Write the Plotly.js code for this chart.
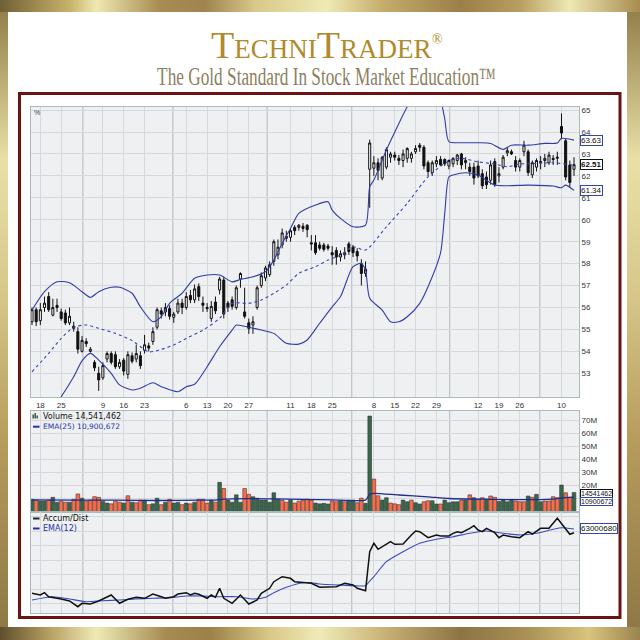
<!DOCTYPE html>
<html><head><meta charset="utf-8">
<script src="https://cdn.plot.ly/plotly-3.0.1.min.js"></script>
<style>
html,body{margin:0;padding:0;background:#fff;}
#wrap{position:relative;width:640px;height:640px;overflow:hidden;
background:
 linear-gradient(90deg,#6f5f35 0%,#c8b36b 11%,#efe8b2 15%,#a98c52 25%,#9f8450 32%,#d9c98a 40%,#efeab6 51%,#c4ac6a 60%,#9a7f48 72%,#b79d5e 81%,#efe8b5 89%,#a88c50 100%) top left/640px 12px no-repeat,
 linear-gradient(90deg,#5e4f2c 0%,#b9a264 8%,#eeeab5 15%,#a58a52 26%,#9c8248 33%,#d8c888 42%,#efebb8 50%,#c8b275 60%,#8c7445 72%,#a78f55 82%,#d8c47c 92%,#9a8450 100%) bottom left/640px 13px no-repeat,
 linear-gradient(180deg,#8d7843 0%,#e9e0a8 25%,#d8c98a 45%,#b59a5a 70%,#8c7645 100%);}
#inner{position:absolute;left:8px;top:12px;width:619px;height:615px;background:#fff;}
#chart{position:absolute;left:0;top:0;width:640px;height:640px;}
</style></head><body>
<div id="wrap"><div id="inner"></div><div id="chart"></div></div>
<script>
// ---- tick labels (trading-day index of each labelled Monday) ----
const tickDays   = [2,7,17,22,27,37,42,47,52,62,67,72,82,87,92,97,107,112,117,127];
const tickLabels = ['18','25','9','16','23','6','13','20','27','11','18','25','8','15','22','29','12','19','26','10'];
const monthLines = [12.2,33.8,56.4,76.7,100.2,121.8];
const priceTicks = [53,54,55,56,57,58,59,60,61,62,63,64,65];
const volTicks   = [20,30,40,50,60,70];
const volTickText= ['20M','30M','40M','50M','60M','70M'];
const volExtraGrid = [10];
const adGrid     = [-12,2.5,17,31.5,46,60.5,75];

// ---- price candles ----
const open = [55.35,55.9,55.4,56.0,56.5,55.65,56.1,55.8,55.75,55.3, 55.15,54.9,54.0,54.45,54.0,53.5,53.0,52.8,53.65,53.9, 53.85,53.3,53.6,52.95,53.8,53.65,53.8,54.05,54.25,54.45, 55.1,55.85,55.8,55.95,55.55,55.8,56.2,56.0,56.55,56.35, 56.95,56.2,56.0,55.5,56.25,56.8,57.25,56.2,56.35,56.0, 57.3,55.8,55.3,55.2,56.0,57.0,57.35,57.5,58.1,58.4, 58.85,59.15,59.2,59.65,59.65,59.7,59.75,58.95,58.95,58.85, 58.85,58.8,58.5,58.6,58.3,58.4,58.9,58.75,58.55,58.0, 57.55,62.3,62.35,62.6,61.9,62.4,62.85,62.95,62.8,62.7, 62.8,62.8,63.1,63.4,63.3,62.6,62.15,62.55,62.75,62.75, 62.45,62.55,62.7,63.0,62.6,62.4,62.4,62.45,62.1,61.95, 61.8,62.65,62.0,62.4,63.05,63.1,62.7,62.4,63.1,63.1, 62.05,62.4,62.6,62.7,62.6,62.8,62.8,64.25,63.6,62.5, 62.3];
const high = [56.0,56.0,56.2,56.5,56.7,56.4,56.4,55.95,55.9,56.0, 55.35,55.1,54.7,54.6,54.2,53.6,53.3,53.5,54.0,54.0, 54.0,53.65,53.7,54.0,53.95,54.3,54.0,54.75,54.4,55.1, 56.0,56.0,56.2,56.1,55.8,56.4,56.4,56.7,56.8,57.05, 57.1,56.5,56.2,56.3,56.5,57.4,57.4,56.3,56.5,57.0, 57.6,56.9,55.5,55.6,57.0,57.6,57.9,58.1,59.1,59.1, 59.6,59.5,59.6,59.75,59.8,59.85,59.8,59.3,59.3,59.0, 58.95,58.9,58.8,58.75,58.6,58.75,59.0,58.85,58.7,58.2, 58.1,63.65,62.9,62.8,62.9,63.3,63.1,63.1,62.95,63.2, 63.3,63.1,63.4,63.5,63.4,62.7,62.7,62.9,62.9,62.8, 62.75,62.85,63.0,63.05,62.85,62.6,62.6,62.7,62.3,62.2, 62.7,62.8,62.4,62.95,63.3,63.2,62.9,62.8,63.6,63.2, 62.7,62.8,62.9,63.0,63.1,62.95,63.1,64.85,63.7,62.7, 62.85];
const low = [55.2,55.15,55.2,55.8,55.8,55.6,55.8,55.4,55.2,55.2, 54.9,53.9,53.95,54.2,53.95,53.1,52.2,52.7,53.5,53.4, 53.2,53.2,52.9,52.75,53.45,53.5,53.2,53.9,54.0,54.3, 55.0,55.5,55.6,55.45,55.3,55.7,55.7,55.9,56.2,56.2, 56.3,55.8,55.8,55.35,55.7,56.6,55.5,55.8,55.9,55.9, 56.9,55.5,54.8,54.8,55.9,56.9,57.2,57.4,57.9,58.2, 58.7,59.0,59.0,59.3,59.5,59.45,59.2,58.6,58.4,58.6, 58.55,58.6,57.95,57.95,58.1,58.2,58.4,58.3,58.1,57.0, 57.4,60.55,62.0,61.8,61.8,62.3,62.6,62.7,62.5,62.4, 62.6,62.6,63.0,63.1,62.3,62.0,62.0,62.4,62.45,62.45, 62.3,62.4,62.5,62.3,62.3,62.0,61.6,61.9,61.4,61.4, 61.6,61.5,61.7,62.3,62.9,62.95,62.2,62.2,62.9,62.0, 61.9,62.2,62.3,62.4,62.5,62.5,62.5,63.7,61.8,61.5, 62.0];
const close = [55.9,55.35,55.9,56.2,55.9,56.0,56.0,55.5,55.3,55.6, 55.05,54.1,54.5,54.35,54.1,53.25,52.7,53.35,53.9,53.5, 53.3,53.5,53.1,53.85,53.55,53.9,53.35,54.3,54.15,54.9, 55.9,55.7,56.0,55.6,55.7,56.2,56.0,56.5,56.35,56.85, 56.5,56.1,55.95,56.05,55.85,57.3,55.7,56.0,56.05,56.9, 57.55,55.6,55.05,55.35,56.9,57.45,57.8,57.95,59.0,58.75, 59.4,59.25,59.5,59.5,59.75,59.6,59.55,58.9,58.5,58.7, 58.65,58.7,58.4,58.3,58.45,58.5,58.55,58.5,58.35,57.55, 57.75,63.5,62.6,62.25,62.85,63.2,63.0,62.85,62.7,63.0, 63.25,63.0,63.25,63.3,62.45,62.2,62.6,62.7,62.5,62.55, 62.7,62.8,62.95,62.5,62.7,62.2,61.9,62.0,61.55,61.6, 62.5,61.6,62.1,62.85,63.15,63.0,62.4,62.7,63.4,62.15, 62.6,62.7,62.65,62.8,62.95,62.75,62.85,63.95,61.95,61.7, 62.51];

// ---- Bollinger bands (sampled day index / value) ----
const upperX = [0,3,6,9,12,14,16,19,21,24,26,29,31,33,36,39,42,45,48,50,53,56,58,60,62,64,68,71,72,74,77,80,81,82,85,88,90,92,94,97,98,99,100,103,107,110,113,115,119,123,126,127,130];
const upperV = [55.88,56.72,57.17,57.13,56.72,56.46,56.72,56.92,56.92,56.65,56.03,55.35,55.58,56.19,56.65,57.33,57.48,57.48,57.17,57.28,57.4,57.63,58.16,58.92,59.6,60.29,60.67,60.82,60.44,60.06,59.68,59.76,61.5,61.81,63.18,64.39,65.15,65.8,66.2,66.0,65.5,64.6,63.56,63.51,63.51,63.48,63.21,63.4,63.4,63.48,63.5,63.71,63.63];
const midX = [0,4,7,10,13,16,20,24,28,31,34,37,41,45,48,52,55,58,61,64,68,71,74,77,80,85,90,95,100,103,107,111,114,117,121,125,130];
const midV = [53.07,53.91,54.59,55.1,55.2,55.05,54.82,54.49,53.98,54.09,54.29,54.59,54.97,55.51,56.19,56.19,56.34,56.65,57.02,57.56,57.86,58.16,58.39,58.77,58.62,59.68,60.75,61.96,62.69,62.8,62.64,62.54,62.42,62.54,62.57,62.6,62.49];
const lowerX = [0,3,5,7,10,12,14,16,19,21,24,26,29,31,35,37,39,42,45,48,49,52,55,58,61,64,66,69,72,74,77,79,80,81,84,86,88,90,93,96,98,99,100,101,104,107,111,119,125,127,128,130];
const lowerV = [50.3,50.9,51.4,51.93,52.84,53.57,53.91,53.6,53.0,52.47,52.24,52.32,52.57,52.39,52.16,52.39,52.5,53.3,54.21,54.97,55.2,55.1,54.97,54.82,54.37,54.33,54.52,55.28,56.03,56.5,57.86,58.01,57.7,56.42,55.88,55.35,55.35,55.58,56.19,57.4,58.5,60.3,61.96,62.04,62.14,62.04,61.58,61.58,61.54,61.46,61.58,61.34];

// ---- volume (millions) and up/down flag ----
const volume = [9.3,8.7,8.0,8.0,8.7,10.8,7.1,7.9,7.1,7.1, 9.3,13.4,10.1,7.9,8.7,11.3,10.8,7.9,6.4,5.8, 7.9,7.1,6.4,12.0,7.1,6.7,8.7,8.7,5.2,5.8, 10.1,5.2,7.1,9.3,6.4,7.1,5.2,6.4,5.8,7.1, 9.3,9.3,6.4,8.7,7.1,22.3,17.6,8.7,7.1,12.7, 7.1,17.6,13.1,11.3,10.1,8.7,8.7,7.1,14.3,9.3, 8.7,7.1,8.7,6.4,7.9,8.7,9.3,8.7,6.4,5.8, 6.2,5.7,8.0,7.4,8.2,7.4,8.7,8.7,6.7,10.1, 6.2,73.1,24.8,12.0,8.7,10.5,6.4,5.8,5.2,8.7, 7.4,8.7,6.7,5.7,7.4,8.2,8.2,5.7,5.7,8.7, 6.7,7.4,7.4,8.7,8.7,12.7,10.5,9.3,10.5,9.3, 11.8,10.8,7.6,8.7,7.4,8.7,8.0,7.4,7.4,11.8, 10.8,13.1,7.4,8.0,8.0,11.3,10.5,20.2,14.3,10.8, 14.541462];
const volUp = [1,0,1,1,0,1,1,0,0,1, 0,0,1,0,0,0,0,1,1,0, 0,0,1,0,1,0,0,1,0,1, 1,0,1,0,1,1,0,1,0,1, 0,0,0,1,0,1,0,1,1,1, 1,0,0,1,1,1,1,1,1,1, 0,0,1,0,0,0,0,0,1,1, 1,1,0,0,1,0,1,1,0,0, 1,1,0,0,1,1,0,0,0,1, 1,0,1,1,0,0,1,1,0,1, 1,1,1,0,1,0,1,0,0,1, 0,0,1,1,1,1,0,0,0,1, 0,1,1,0,0,0,0,1,0,0, 1];
const volEmaX = [0,10,20,30,40,44,46,52,58,65,72,80,81,82,88,95,100,110,118,125,127,130];
const volEmaV = [8.9,8.7,8.7,8.4,8.6,8.7,9.4,9.8,9.6,9.2,8.9,8.7,13.2,13.9,12.6,11.2,9.9,9.3,9.0,9.5,10.2,10.900672];

// ---- Accumulation / Distribution (millions) ----
const adX = [0,2,3,4,7,9,11,12,14,16,19,20,21,23,25,27,29,31,32,34,35,37,38,39,40,42,43,44,45,46,48,50,51,52,54,55,57,58,60,62,63,65,67,69,71,73,75,77,78,80,81,82,83,84,86,87,89,91,92,93,95,97,98,100,101,102,103,105,106,107,108,109,111,112,113,115,116,117,119,120,122,124,126,127,129,130];
const adV = [-1.3,-3,-0.7,-4.7,-7,-9,-14.7,-11.3,-12,-9,-3,-7.3,-11.3,-7.3,-5.3,-6.3,-2,-4.7,-6.3,-4.7,-2,-0.7,-3,-1.3,-2.3,-6.3,-3,-5.3,3.7,-6.3,-11.3,-3,-8,-12,-8,-1.3,3.7,10.3,15.3,13.7,10.3,9.3,8.7,4.7,4.7,5.3,8.7,7,3.7,1.3,40.3,48.7,42.7,45.3,50.3,47.7,48,57,61,60.3,54.3,57,56,56,58.7,60.3,59.3,63.7,66.3,62,60.3,63.7,59.3,54.3,57,55.3,54.7,54.3,60.3,58,63.7,63.7,73.7,68.7,57.7,59.3];
const adEmaX = [0,5,9,13,17,21,25,29,33,37,41,45,49,53,56,58,61,65,67,69,74,80,81,82,85,89,93,97,101,105,109,113,117,121,125,127,130];
const adEmaV = [-8,-4.7,-7,-9.7,-8.7,-8,-7,-6.3,-5.7,-4,-4,-4.7,-4.7,-7,-5.3,-0.7,4.7,9.3,9.3,8,7,6.3,11,15.3,30.3,40.3,48.7,52.7,55.3,58.7,61,58.7,57,58.7,62.7,64.3,63.00068];

const days = open.map((_, i) => i);
const last = a => a[a.length - 1];

// ---- styling helpers ----
const gridC = '#d6d9dc', borderC = '#a9bcbc', bandC = '#2f3da6';
const ax = px => (px - 31) / 548;          // page px -> paper x
const ay = py => (613 - py) / 506;         // page px -> paper y
const tickFont = {family:'Liberation Sans', size:8, color:'#333'};

function xa(anchor, labels) {
  return {anchor, range:[-0.24,131.2], tickmode:'array', tickvals:tickDays, ticktext:tickLabels,
    showticklabels:labels, showgrid:true, gridcolor:gridC, gridwidth:1, zeroline:false,
    showline:true, mirror:true, linecolor:borderC, linewidth:1, ticks:'', tickfont:tickFont,
    fixedrange:true, rangeslider:{visible:false}};
}
function ya(anchor, domain, range, tv, tt, labels) {
  const o = {anchor, domain, range, side:'right', tickmode:'array', tickvals:tv,
    showticklabels:labels, showgrid:true, gridcolor:gridC, gridwidth:1, zeroline:false,
    showline:true, mirror:true, linecolor:borderC, linewidth:1, ticks:'', tickfont:tickFont, fixedrange:true};
  if (tt) o.ticktext = tt;
  return o;
}

const traces = [
  {type:'candlestick', x:days, open, high, low, close, xaxis:'x', yaxis:'y', whiskerwidth:0,
   increasing:{line:{color:'#111', width:1}, fillcolor:'#ffffff'},
   decreasing:{line:{color:'#111', width:1}, fillcolor:'#111111'}, hoverinfo:'skip'},
  {type:'scatter', mode:'lines', x:upperX, y:upperV, xaxis:'x', yaxis:'y', line:{color:bandC, width:1.1, shape:'spline', smoothing:0.7}},
  {type:'scatter', mode:'lines', x:midX, y:midV, xaxis:'x', yaxis:'y', line:{color:'#3846b8', width:1.1, dash:'dot', shape:'spline', smoothing:0.7}},
  {type:'scatter', mode:'lines', x:lowerX, y:lowerV, xaxis:'x', yaxis:'y', line:{color:bandC, width:1.1, shape:'spline', smoothing:0.7}},
  {type:'bar', x:days, y:volume, xaxis:'x2', yaxis:'y2',
   marker:{color:volUp.map(u => u ? '#37674a' : '#ff6b47'), line:{color:'#3a3a3a', width:0.6}}},
  {type:'scatter', mode:'lines', x:volEmaX, y:volEmaV, xaxis:'x2', yaxis:'y2', line:{color:'#1f2b8f', width:1.3, shape:'spline', smoothing:0.6}},
  {type:'scatter', mode:'lines', x:adEmaX, y:adEmaV, xaxis:'x3', yaxis:'y3', line:{color:'#3a49c0', width:1.1, shape:'spline', smoothing:0.6}},
  {type:'scatter', mode:'lines', x:adX, y:adV, xaxis:'x3', yaxis:'y3', line:{color:'#111', width:1.5}}
];

const shapes = [
  {type:'rect', xref:'paper', yref:'paper', x0:ax(19.5), x1:ax(620), y0:ay(617.5), y1:ay(93.5),
   line:{color:'#6b1313', width:3}, fillcolor:'rgba(0,0,0,0)', layer:'below'}
];
['y','y2','y3'].forEach((yr, k) => {
  const xr = ['x','x2','x3'][k];
  monthLines.forEach(m => shapes.push({type:'line', xref:xr, yref:yr + ' domain', x0:m, x1:m, y0:0, y1:1,
    line:{color:'#b3b7bb', width:1}, layer:'below'}));
});
volExtraGrid.forEach(v => shapes.push({type:'line', xref:'x2 domain', yref:'y2', x0:0, x1:1, y0:v, y1:v,
  line:{color:gridC, width:1}, layer:'below'}));
// legend dashes and the small volume icon
[[426.7,'#2233aa'],[518.5,'#222'],[528.5,'#2233aa']].forEach(([py, c]) =>
  shapes.push({type:'line', xref:'paper', yref:'paper', x0:ax(33), x1:ax(39.5), y0:ay(py), y1:ay(py), line:{color:c, width:2}}));
[[33.2,418.5,414.5],[35.2,418.5,413],[37.2,418.5,415.5]].forEach(([px, y0, y1]) =>
  shapes.push({type:'line', xref:'paper', yref:'paper', x0:ax(px), x1:ax(px), y0:ay(y0), y1:ay(y1), line:{color:'#2f4f38', width:1.4}}));

const fmt = n => Math.round(n).toLocaleString('en-US');
const lastVol = last(volume) * 1e6, lastVolEma = last(volEmaV) * 1e6;

function lab(px, py, text, color, size, family) {
  return {xref:'paper', yref:'paper', x:ax(px), y:ay(py), xanchor:'left', yanchor:'middle', showarrow:false,
    text, font:{family:family || 'DejaVu Sans', size:size || 8, color}};
}
function tag(yref, y, text, border, bold, yshift, size) {
  return {xref:'paper', yref, x:1, y, xanchor:'left', yanchor:'middle', xshift:1, yshift:yshift || 0, showarrow:false,
    text: bold ? '<b>' + text + '</b>' : text,
    font:{family:'Liberation Sans', size:size || 8, color:'#111'}, bgcolor:'#ffffff', bordercolor:border, borderwidth:1, borderpad:0};
}

const annotations = [
  {xref:'paper', yref:'paper', x:ax(321), y:ay(45), xanchor:'center', yanchor:'middle', showarrow:false,
   text:'<span style="font-size:38px">T</span>ECHNI<span style="font-size:38px">T</span>RADER',
   font:{family:'Liberation Serif', size:27, color:'#b08a2c'}},
  lab(429.5, 39, '®', '#b08a2c', 14, 'Liberation Serif'),
  {xref:'paper', yref:'paper', x:ax(326.5), y:ay(77), xanchor:'center', yanchor:'middle', showarrow:false,
   text:'The Gold Standard In Stock Market Education™',
   font:{family:'Liberation Serif', size:25, color:'#8c7f60'}},
  lab(32, 112.5, '%', '#444', 7, 'Liberation Sans'),
  lab(41, 416.5, 'Volume ' + fmt(lastVol), '#111', 8),
  lab(41, 426.7, 'EMA(25) ' + fmt(lastVolEma), '#2233aa', 7.5, 'DejaVu Sans'),
  lab(41, 518.5, 'Accum/Dist', '#111', 8),
  lab(41, 528.5, 'EMA(12)', '#2233aa', 8),
  tag('y', last(upperV), last(upperV).toFixed(2), '#3344aa'),
  tag('y', last(close), last(close).toFixed(2), '#111', true),
  tag('y', last(lowerV), last(lowerV).toFixed(2), '#3344aa'),
  tag('y2', last(volume), String(Math.round(lastVol)), '#111', false, -1, 7),
  tag('y2', last(volEmaV), String(Math.round(lastVolEma)), '#3344aa', false, -4, 7),
  tag('y3', last(adEmaV), String(Math.round(last(adEmaV) * 1e6)), '#3344aa')
];

const layout = {
  width:640, height:640, autosize:false, margin:{l:31, r:61, t:107, b:27, pad:0},
  paper_bgcolor:'rgba(0,0,0,0)', plot_bgcolor:'#eff0f2', showlegend:false, bargap:0.12,
  xaxis: xa('y', true),
  xaxis2: Object.assign(xa('y2', false), {matches:'x'}),
  xaxis3: Object.assign(xa('y3', false), {matches:'x'}),
  yaxis: ya('x', [0.42688, 1], [51.92, 65.14], priceTicks, null, true),
  yaxis2: ya('x2', [0.2002, 0.3998], [-0.2, 77.2], volTicks, volTickText, true),
  yaxis3: ya('x3', [0, 0.2002], [-21, 80.3], adGrid, null, false),
  shapes, annotations
};

Plotly.newPlot('chart', traces, layout, {displayModeBar:false, staticPlot:true}).then(() => {
  // condensed look for the subtitle: scale the glyphs horizontally around the text anchor
  document.querySelectorAll('#chart .annotation-text').forEach(t => {
    if (t.textContent.indexOf('Gold Standard') >= 0) {
      const w = t.getComputedTextLength();
      const s = 339 / w;
      const cx = parseFloat(t.getAttribute('x')) || 0;
      t.setAttribute('transform', 'translate(' + (cx * (1 - s)) + ',0) scale(' + s + ',1)');
    }
  });
});
</script></body></html>
